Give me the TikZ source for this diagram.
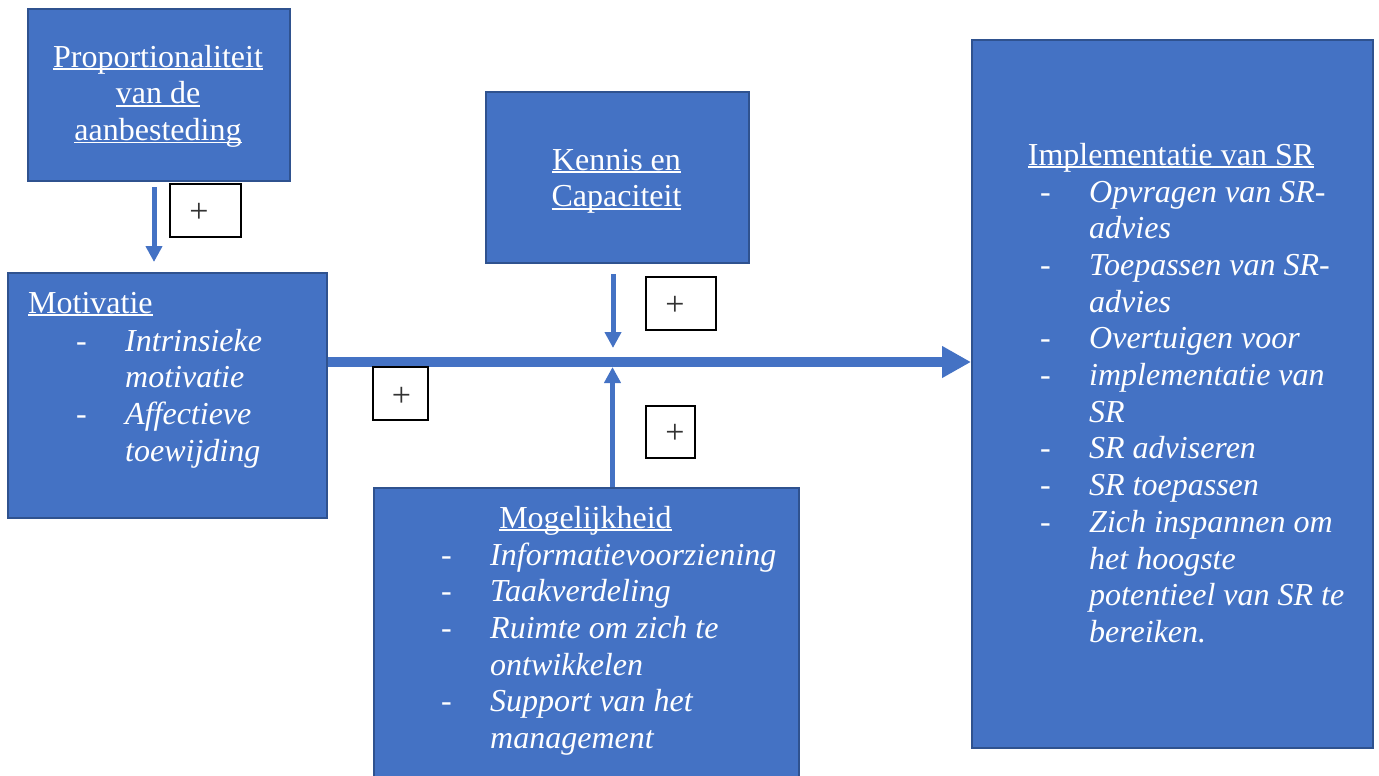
\documentclass[tikz,border=0pt]{standalone}
\usepackage{fontspec}
\setmainfont{Liberation Serif}
\usetikzlibrary{arrows.meta,calc}
\definecolor{boxfill}{HTML}{4472C4}
\definecolor{boxline}{HTML}{2F528F}
\definecolor{arrowblue}{HTML}{4472C4}
\definecolor{plusgray}{HTML}{333333}
\newsavebox\ulbox
\newcommand\myul[1]{\leavevmode\sbox\ulbox{#1}\rlap{\rule[-3pt]{\wd\ulbox}{1.6pt}}\usebox\ulbox}
\newcommand\dashitem[1]{\makebox[49pt][l]{-}\textit{#1}}
\newcommand\contitem[1]{\hspace*{49pt}\textit{#1}}
\tikzset{
  bluebox/.style={draw=boxline, line width=2pt, fill=boxfill, inner sep=0pt, anchor=north west},
  txt/.style={text=white, inner sep=0pt, font=\fontsize{32}{36.7}\selectfont},
  mainline/.style={draw=arrowblue, line width=10pt, -{Triangle[length=29pt,width=30pt]}},
  thinarrow/.style={draw=arrowblue, line width=5pt, -{Triangle[length=16pt,width=16pt]}},
  plusbox/.style={draw=black, line width=1.3pt, fill=white, inner sep=0pt},
  plustxt/.style={text=plusgray, inner sep=0pt, font=\fontsize{34}{34}\selectfont},
}
\begin{document}
\begin{tikzpicture}[x=1pt,y=-1pt]
\useasboundingbox (0,0) rectangle (1379,776);
\clip (0,0) rectangle (1379,776);
% boxes
\node[bluebox, minimum width=262pt, minimum height=172pt] (prop) at (27,8) {};
\node[bluebox, minimum width=319pt, minimum height=245pt] (mot) at (7,272) {};
\node[bluebox, minimum width=263pt, minimum height=171pt] (ken) at (485,91) {};
\node[bluebox, minimum width=425pt, minimum height=310pt] (mog) at (373,487) {};
\node[bluebox, minimum width=401pt, minimum height=708pt] (impl) at (971,39) {};
% texts
\node[txt, anchor=base] (propt) at (158,67) {\parbox[t]{300pt}{\centering\myul{Proportionaliteit}\\\myul{van de}\\\myul{aanbesteding}}};
\node[txt, anchor=base west] (mott) at (28,313) {\myul{Motivatie}};
\node[txt, anchor=base west] (motl) at (76,351) {\parbox[t]{260pt}{\dashitem{Intrinsieke}\\\contitem{motivatie}\\\dashitem{Affectieve}\\\contitem{toewijding}}};
\node[txt, anchor=base] (kent) at (616.5,170) {\parbox[t]{260pt}{\centering\myul{Kennis en}\\\myul{Capaciteit}}};
\node[txt, anchor=base] (mogt) at (585.5,528) {\myul{Mogelijkheid}};
\node[txt, anchor=base west] (mogl) at (441,565) {\parbox[t]{400pt}{\dashitem{Informatievoorziening}\\\dashitem{Taakverdeling}\\\dashitem{Ruimte om zich te}\\\contitem{ontwikkelen}\\\dashitem{Support van het}\\\contitem{management}}};
\node[txt, anchor=base] (implt) at (1171,165) {\myul{Implementatie van SR}};
\node[txt, anchor=base west] (impll) at (1040,202) {\parbox[t]{330pt}{\dashitem{Opvragen van SR-}\\\contitem{advies}\\\dashitem{Toepassen van SR-}\\\contitem{advies}\\\dashitem{Overtuigen voor}\\\dashitem{implementatie van}\\\contitem{SR}\\\dashitem{SR adviseren}\\\dashitem{SR toepassen}\\\dashitem{Zich inspannen om}\\\contitem{het hoogste}\\\contitem{potentieel van SR te}\\\contitem{bereiken.}}};
% connectors
\coordinate (junc) at (613,362);
\draw[mainline] (mot.east |- junc) -- (impl.west |- junc);
\draw[thinarrow, shorten <=5pt, shorten >=10pt] ([xshift=-5pt]prop.south) -- ([xshift=-5pt]prop.south |- mot.north);
\draw[thinarrow, shorten <=10pt, shorten >=14pt] (ken.south -| junc) -- (junc);
\draw[thinarrow, shorten >=5pt] ([xshift=-0.5pt]mog.north -| junc) -- ([xshift=-0.5pt]junc);
% plus boxes
\node[plusbox, minimum width=71pt, minimum height=53pt] (pb1) at (205.5,210.5) {};
\node[plustxt] (pt1) at ([xshift=-6.5pt,yshift=-2.5pt]pb1.center) {+};
\node[plusbox, minimum width=70pt, minimum height=53pt] (pb2) at (681,303.5) {};
\node[plustxt] (pt2) at ([xshift=-6pt,yshift=-2.5pt]pb2.center) {+};
\node[plusbox, minimum width=55pt, minimum height=53pt] (pb3) at (400.5,393.5) {};
\node[plustxt] (pt3) at ([xshift=1pt,yshift=-3pt]pb3.center) {+};
\node[plusbox, minimum width=49pt, minimum height=52pt] (pb4) at (670.5,432) {};
\node[plustxt] (pt4) at ([xshift=4.5pt,yshift=-2pt]pb4.center) {+};
\end{tikzpicture}
\end{document}
